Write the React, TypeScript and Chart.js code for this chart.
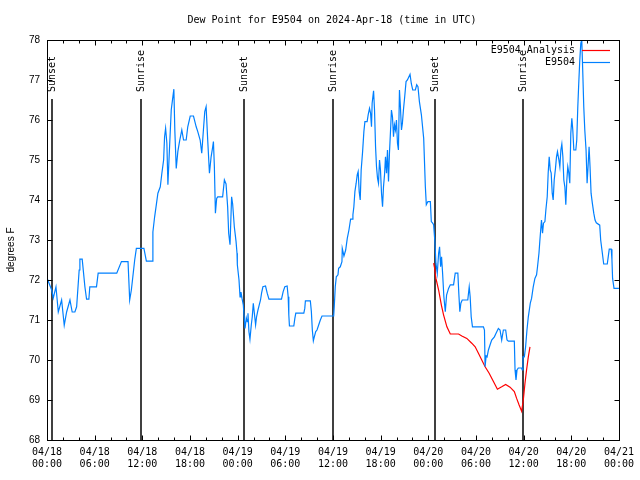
import React, { useEffect, useRef } from "react";
import { Chart, registerables } from "chart.js";

Chart.register(...registerables);

const TITLE = "Dew Point for E9504 on 2024-Apr-18 (time in UTC)";
const Y_TITLE = "degrees F";
const SERIES_NAMES = ["E9504 Analysis", "E9504"];
const SERIES_COLORS = ["#ff0000", "#0080ff"];
const DATES = ["04/18", "04/19", "04/20", "04/21"];

// hours since 2024-04-18 00:00 UTC
const eventHours = [0.67, 11.88, 24.75, 35.97, 48.84, 59.92];
const eventLabels = ["Sunset", "Sunrise", "Sunset", "Sunrise", "Sunset", "Sunrise"];

const obsHours = [
  0.0, 0.59, 0.79, 1.13, 1.42, 1.84, 2.17, 2.47, 2.89, 3.17, 3.51, 3.73, 4.05, 4.14, 4.43, 4.77, 4.98, 5.27, 5.39, 6.23,
  6.44, 8.78, 9.37, 10.2, 10.41, 10.62, 11.04, 11.25, 12.2, 12.51, 13.26, 13.33, 13.55, 13.76, 13.96, 14.26, 14.46, 14.68, 14.8, 14.93,
  15.09, 15.22, 15.43, 15.64, 15.77, 15.97, 16.09, 16.27, 16.47, 16.68, 16.97, 17.19, 17.52, 17.72, 18.03, 18.44, 18.78, 18.98, 19.28, 19.48,
  19.69, 19.86, 20.03, 20.23, 20.45, 20.66, 20.86, 20.95, 21.07, 21.2, 21.36, 21.49, 22.11, 22.33, 22.54, 22.74, 22.87, 23.04, 23.24, 23.37,
  23.58, 23.8, 23.92, 23.96, 24.17, 24.3, 24.42, 24.55, 24.71, 24.8, 24.93, 25.09, 25.21, 25.3, 25.42, 25.55, 25.72, 25.84, 25.97, 26.13,
  26.26, 26.38, 26.56, 26.72, 26.88, 27.01, 27.18, 27.51, 27.72, 27.94, 29.52, 29.73, 29.94, 30.23, 30.36, 30.44, 30.52, 31.07, 31.2, 31.32,
  32.33, 32.45, 32.53, 33.15, 33.28, 33.4, 33.53, 33.65, 33.83, 33.99, 34.21, 34.41, 34.62, 36.09, 36.16, 36.29, 36.42, 36.63, 36.71, 36.92,
  37.13, 37.17, 37.38, 37.6, 37.8, 38.01, 38.22, 38.42, 38.51, 38.63, 38.76, 38.92, 39.05, 39.17, 39.3, 39.43, 39.55, 39.73, 39.89, 40.02,
  40.3, 40.43, 40.6, 40.73, 40.85, 40.93, 41.11, 41.23, 41.36, 41.48, 41.61, 41.73, 41.86, 41.98, 42.11, 42.24, 42.36, 42.49, 42.61, 42.74,
  42.86, 42.99, 43.11, 43.24, 43.36, 43.49, 43.62, 43.74, 43.87, 43.99, 44.12, 44.24, 44.37, 44.49, 44.62, 44.74, 44.87, 45.03, 45.2, 45.37,
  45.53, 45.7, 45.87, 46.04, 46.37, 46.54, 46.7, 46.88, 47.13, 47.42, 47.63, 47.75, 47.95, 48.26, 48.38, 48.55, 48.67, 48.83, 48.96, 49.13,
  49.3, 49.42, 49.55, 49.67, 49.8, 49.96, 50.14, 50.3, 50.55, 50.77, 51.18, 51.39, 51.72, 51.85, 51.97, 52.1, 52.27, 52.97, 53.06, 53.15,
  53.27, 53.4, 53.56, 54.94, 55.07, 55.15, 55.28, 55.4, 55.57, 55.78, 55.98, 56.32, 56.53, 56.82, 57.03, 57.24, 57.45, 57.74, 57.91, 58.08,
  58.83, 58.92, 59.04, 59.17, 59.33, 59.75, 59.83, 59.92, 60.09, 60.25, 60.42, 60.59, 60.84, 61.0, 61.21, 61.42, 61.63, 61.75, 61.93, 62.05,
  62.18, 62.25, 62.38, 62.5, 62.68, 62.8, 62.97, 63.09, 63.22, 63.35, 63.47, 63.6, 63.72, 63.85, 64.01, 64.14, 64.26, 64.44, 64.56, 64.69,
  64.81, 64.94, 65.06, 65.19, 65.31, 65.44, 65.56, 65.69, 65.81, 65.94, 66.07, 66.19, 66.32, 66.57, 66.69, 66.82, 66.94, 67.07, 67.2, 67.32,
  67.45, 67.57, 67.7, 67.86, 67.99, 68.11, 68.24, 68.36, 68.49, 68.65, 68.83, 68.99, 69.15, 69.58, 69.7, 69.86, 70.08, 70.53, 70.65, 70.78,
  71.03, 71.12, 71.2, 71.38, 72.0,
];

const obsValues = [
  72.05, 71.75, 71.55, 71.83, 71.2, 71.5, 70.87, 71.2, 71.5, 71.2, 71.2, 71.33, 72.25, 72.52, 72.52, 71.83, 71.52, 71.52, 71.83, 71.83,
  72.17, 72.17, 72.46, 72.46, 71.5, 71.75, 72.5, 72.79, 72.79, 72.47, 72.47, 73.2, 73.58, 73.88, 74.17, 74.33, 74.67, 75.0, 75.58, 75.79,
  75.42, 74.38, 75.33, 76.25, 76.46, 76.77, 75.75, 74.79, 75.21, 75.46, 75.75, 75.5, 75.5, 75.83, 76.1, 76.1, 75.83, 75.71, 75.5, 75.17,
  75.75, 76.21, 76.33, 75.5, 74.67, 75.08, 75.33, 75.46, 74.83, 73.67, 74.04, 74.08, 74.08, 74.5, 74.4, 73.83, 73.17, 72.88, 74.08, 73.9,
  73.33, 72.96, 72.67, 72.38, 72.0, 71.58, 71.7, 71.54, 71.38, 71.13, 70.79, 71.05, 70.96, 71.17, 70.71, 70.52, 70.88, 71.08, 71.42, 71.12,
  70.88, 71.08, 71.25, 71.38, 71.5, 71.67, 71.83, 71.85, 71.67, 71.52, 71.52, 71.71, 71.83, 71.85, 71.58, 71.13, 70.85, 70.85, 71.04, 71.17,
  71.17, 71.29, 71.48, 71.48, 71.21, 70.75, 70.48, 70.58, 70.71, 70.75, 70.88, 71.0, 71.1, 71.1, 71.33, 71.83, 72.08, 72.13, 72.29, 72.33,
  72.46, 72.79, 72.6, 72.75, 73.04, 73.25, 73.52, 73.52, 73.63, 73.83, 74.21, 74.42, 74.63, 74.71, 74.21, 74.0, 74.75, 75.21, 75.71, 75.96,
  75.96, 76.13, 76.29, 76.17, 75.83, 76.42, 76.73, 76.25, 75.33, 74.83, 74.54, 74.42, 75.0, 74.75, 74.17, 73.83, 74.33, 74.63, 75.08, 74.67,
  75.25, 74.46, 75.17, 75.71, 76.25, 76.08, 75.58, 75.88, 75.75, 76.0, 75.42, 75.25, 76.75, 76.33, 75.75, 75.92, 76.25, 76.58, 76.96, 77.0,
  77.07, 77.14, 76.9, 76.75, 76.75, 76.88, 76.83, 76.46, 76.13, 75.54, 74.33, 73.88, 73.96, 73.96, 73.46, 73.42, 73.38, 72.96, 72.42, 72.17,
  72.67, 72.83, 72.33, 72.58, 72.17, 71.58, 71.21, 71.62, 71.79, 71.88, 71.88, 72.17, 72.17, 71.63, 71.21, 71.42, 71.5, 71.5, 71.67, 71.83,
  71.58, 71.08, 70.83, 70.83, 70.75, 69.83, 70.1, 70.08, 70.25, 70.38, 70.5, 70.58, 70.67, 70.79, 70.75, 70.5, 70.75, 70.75, 70.5, 70.47,
  70.47, 69.75, 69.5, 69.75, 69.8, 69.8, 69.75, 70.08, 70.08, 70.33, 70.75, 71.08, 71.42, 71.54, 71.83, 72.04, 72.13, 72.33, 72.67, 73.0,
  73.33, 73.5, 73.17, 73.42, 73.46, 73.75, 74.08, 74.67, 75.08, 74.75, 74.67, 74.17, 74.0, 74.5, 74.79, 75.08, 75.21, 75.0, 74.83, 75.25,
  75.4, 75.08, 74.5, 74.33, 73.88, 74.5, 74.83, 74.67, 74.42, 75.67, 76.04, 75.75, 75.25, 75.25, 75.5, 76.33, 76.92, 77.5, 77.92, 78.0,
  77.17, 76.33, 75.75, 75.25, 74.42, 74.83, 75.33, 74.83, 74.17, 73.92, 73.67, 73.5, 73.43, 73.37, 73.0, 72.75, 72.4, 72.4, 72.58, 72.77,
  72.77, 72.5, 72.04, 71.79, 71.79,
];

const anaHours = [
  48.67, 48.79, 48.96, 49.3, 49.64, 49.92, 50.34, 50.77, 51.81, 52.22, 52.85, 53.47, 53.9, 54.31, 54.73, 55.15, 55.66, 56.2, 56.7, 57.24,
  57.74, 58.29, 58.83, 59.12, 59.42, 59.75, 59.96, 60.17, 60.37, 60.59, 60.8,
];
const anaValues = [
  72.42, 72.3, 72.04, 71.75, 71.38, 71.13, 70.83, 70.65, 70.65, 70.6, 70.54, 70.42, 70.33, 70.17, 70.0, 69.83, 69.67, 69.46, 69.27, 69.33,
  69.39, 69.32, 69.21, 69.04, 68.88, 68.72, 69.0, 69.42, 69.75, 70.08, 70.33,
];

const MONO = "'DejaVu Sans Mono', monospace";

const overlay = {
  id: "overlay",
  beforeDatasetsDraw(chart: any) {
    const { ctx, chartArea: a, scales } = chart;
    const x = scales.x;
    ctx.save();
    ctx.strokeStyle = "#000";
    ctx.fillStyle = "#000";
    ctx.lineWidth = 1.5;
    ctx.font = `10px ${MONO}`;
    ctx.textAlign = "left";
    ctx.textBaseline = "middle";
    eventHours.forEach((h, i) => {
      const px = Math.round(x.getPixelForValue(h));
      ctx.beginPath();
      ctx.moveTo(px, a.top + 59);
      ctx.lineTo(px, a.bottom);
      ctx.stroke();
      ctx.save();
      ctx.translate(px, a.top + 52);
      ctx.rotate(-Math.PI / 2);
      ctx.fillText(eventLabels[i], 0, 0);
      ctx.restore();
    });
    ctx.restore();
  },
  afterDraw(chart: any) {
    const { ctx, chartArea: a, scales } = chart;
    const x = scales.x;
    const y = scales.y;
    ctx.save();
    ctx.strokeStyle = "#000";
    ctx.lineWidth = 1;
    const L = Math.round(a.left) + 0.5;
    const R = Math.round(a.right) + 0.5;
    const T = Math.round(a.top) + 0.5;
    const B = Math.round(a.bottom) + 0.5;
    ctx.beginPath();
    // x ticks: every 2 h minor, 6 h major
    for (let h = 0; h <= 72; h += 2) {
      const px = Math.round(x.getPixelForValue(h)) + 0.5;
      const len = h % 6 === 0 ? 5 : 3;
      ctx.moveTo(px, B);
      ctx.lineTo(px, B - len);
      ctx.moveTo(px, T);
      ctx.lineTo(px, T + len);
    }
    for (let v = 68; v <= 78; v += 1) {
      const py = Math.round(y.getPixelForValue(v)) + 0.5;
      ctx.moveTo(L, py);
      ctx.lineTo(L + 5, py);
      ctx.moveTo(R, py);
      ctx.lineTo(R - 5, py);
    }
    ctx.stroke();
    ctx.strokeRect(L, T, R - L, B - T);

    // title
    ctx.fillStyle = "#000";
    ctx.font = `10px ${MONO}`;
    ctx.textAlign = "center";
    ctx.textBaseline = "middle";
    ctx.fillText(TITLE, 332, 20);

    // y axis title
    ctx.save();
    ctx.translate(11, 250);
    ctx.rotate(-Math.PI / 2);
    ctx.font = "10px 'Liberation Sans', sans-serif";
    ctx.fillText(Y_TITLE, 0, 0);
    ctx.restore();

    // legend
    ctx.font = `10px ${MONO}`;
    ctx.textAlign = "right";
    SERIES_NAMES.forEach((name, i) => {
      const ly = 50 + i * 12;
      ctx.fillStyle = "#000";
      ctx.fillText(name, 575, ly);
      ctx.strokeStyle = SERIES_COLORS[i];
      ctx.lineWidth = 1.2;
      ctx.beginPath();
      ctx.moveTo(582, ly + 0.5);
      ctx.lineTo(610, ly + 0.5);
      ctx.stroke();
    });
    ctx.restore();
  },
};

export default function App() {
  const ref = useRef<HTMLCanvasElement | null>(null);

  useEffect(() => {
    if (!ref.current) return;
    const obs = obsHours.map((h, i) => ({ x: h, y: obsValues[i] }));
    const ana = anaHours.map((h, i) => ({ x: h, y: anaValues[i] }));
    const chart = new Chart(ref.current, {
      type: "line",
      data: {
        datasets: [
          {
            label: SERIES_NAMES[1],
            data: obs,
            borderColor: SERIES_COLORS[1],
            borderWidth: 1.2,
            pointRadius: 0,
            tension: 0,
          },
          {
            label: SERIES_NAMES[0],
            data: ana,
            borderColor: SERIES_COLORS[0],
            borderWidth: 1.2,
            pointRadius: 0,
            tension: 0,
          },
        ],
      },
      options: {
        responsive: false,
        animation: false,
        devicePixelRatio: 1,
        layout: { padding: { top: 40, right: 19, left: 0, bottom: 0 } },
        plugins: { legend: { display: false }, title: { display: false }, tooltip: { enabled: false } },
        scales: {
          x: {
            type: "linear",
            min: 0,
            max: 72,
            grid: { display: false, drawTicks: false },
            border: { display: false },
            afterFit: (s: any) => {
              s.height = 40;
            },
            ticks: {
              stepSize: 6,
              autoSkip: false,
              maxRotation: 0,
              padding: 6,
              color: "#000",
              font: { family: MONO, size: 10, lineHeight: 1.2 },
              callback: (v: any) => {
                const n = Number(v);
                const d = DATES[Math.floor(n / 24)];
                const hh = String(n % 24).padStart(2, "0");
                return [d, hh + ":00"];
              },
            },
          },
          y: {
            min: 68,
            max: 78,
            grid: { display: false, drawTicks: false },
            border: { display: false },
            afterFit: (s: any) => {
              s.width = 47;
            },
            ticks: {
              stepSize: 1,
              padding: 7,
              color: "#000",
              font: { family: "'Liberation Sans', sans-serif", size: 10 },
            },
          },
        },
      },
      plugins: [overlay],
    });
    return () => chart.destroy();
  }, []);

  return (
    <div style={{ position: "fixed", left: 0, top: 0, width: 640, height: 480, background: "#fff" }}>
      <canvas ref={ref} width={640} height={480} />
    </div>
  );
}
